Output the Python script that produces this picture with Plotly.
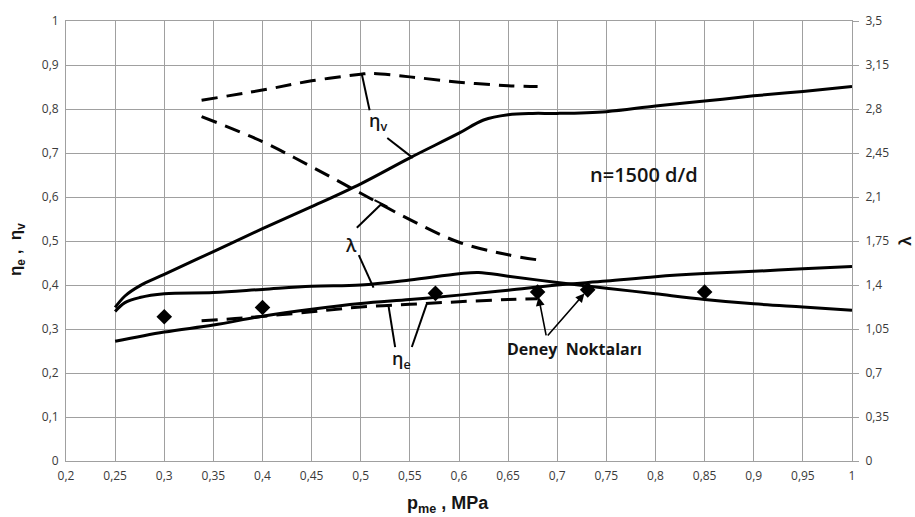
import plotly.graph_objects as go

# Effective pressure p_me [MPa] and measured / computed characteristics, n = 1500 d/d
p_etav_s = [0.25, 0.26, 0.275, 0.30, 0.35, 0.40, 0.45, 0.50, 0.55, 0.60, 0.625, 0.65, 0.675, 0.70, 0.75, 0.80, 0.85, 0.90, 0.95, 1.00]
etav_s = [0.349, 0.375, 0.398, 0.424, 0.476, 0.528, 0.578, 0.630, 0.689, 0.745, 0.775, 0.787, 0.790, 0.790, 0.794, 0.807, 0.818, 0.830, 0.840, 0.851]

p_lam_s = [0.25, 0.26, 0.275, 0.30, 0.35, 0.40, 0.45, 0.50, 0.55, 0.60, 0.62, 0.65, 0.70, 0.75, 0.80, 0.85, 0.90, 0.95, 1.00]
lam_s = [1.19, 1.26, 1.30, 1.33, 1.34, 1.365, 1.39, 1.40, 1.44, 1.49, 1.50, 1.47, 1.42, 1.375, 1.33, 1.285, 1.25, 1.225, 1.20]

p_etae_s = [0.25, 0.30, 0.35, 0.40, 0.45, 0.50, 0.55, 0.60, 0.65, 0.70, 0.75, 0.80, 0.85, 0.90, 0.95, 1.00]
etae_s = [0.272, 0.293, 0.309, 0.329, 0.345, 0.358, 0.367, 0.377, 0.388, 0.400, 0.409, 0.419, 0.426, 0.431, 0.437, 0.442]

p_etav_d = [0.338, 0.40, 0.45, 0.50, 0.51, 0.55, 0.60, 0.65, 0.68]
etav_d = [0.820, 0.843, 0.864, 0.879, 0.881, 0.873, 0.861, 0.853, 0.851]

p_lam_d = [0.338, 0.40, 0.45, 0.50, 0.55, 0.60, 0.65, 0.68]
lam_d = [2.74, 2.54, 2.34, 2.13, 1.92, 1.74, 1.64, 1.60]

p_etae_d = [0.338, 0.38, 0.45, 0.50, 0.55, 0.60, 0.65, 0.68]
etae_d = [0.319, 0.325, 0.339, 0.350, 0.356, 0.362, 0.367, 0.369]

# Test points (Deney Noktaları)
p_test = [0.30, 0.40, 0.576, 0.68, 0.731, 0.85]
eta_test = [0.328, 0.349, 0.381, 0.384, 0.389, 0.384]

x_ticks = [0.2, 0.25, 0.3, 0.35, 0.4, 0.45, 0.5, 0.55, 0.6, 0.65, 0.7, 0.75, 0.8, 0.85, 0.9, 0.95, 1.0]
x_tick_text = ["0,2", "0,25", "0,3", "0,35", "0,4", "0,45", "0,5", "0,55", "0,6", "0,65", "0,7", "0,75", "0,8", "0,85", "0,9", "0,95", "1"]
y_ticks = [0, 0.1, 0.2, 0.3, 0.4, 0.5, 0.6, 0.7, 0.8, 0.9, 1.0]
y_tick_text = ["0", "0,1", "0,2", "0,3", "0,4", "0,5", "0,6", "0,7", "0,8", "0,9", "1"]
y2_ticks = [0, 0.35, 0.7, 1.05, 1.4, 1.75, 2.1, 2.45, 2.8, 3.15, 3.5]
y2_tick_text = ["0", "0,35", "0,7", "1,05", "1,4", "1,75", "2,1", "2,45", "2,8", "3,15", "3,5"]

LINE_W = 3
DASH = "16px,9px"
GRID = "#a0a0a0"
TICK_FONT = dict(family="Open Sans", size=12, color="#3a3a3a")
LABEL = "#151515"

fig = go.Figure()

def curve(x, y, dashed=False, axis="y"):
    fig.add_trace(go.Scatter(
        x=x, y=y, mode="lines", yaxis=axis,
        line=dict(color="black", width=LINE_W, shape="spline", smoothing=1.0,
                  dash=DASH if dashed else "solid"),
        showlegend=False, hoverinfo="skip"))

curve(p_etav_s, etav_s)
curve(p_lam_s, lam_s, axis="y2")
curve(p_etae_s, etae_s)
curve(p_etav_d, etav_d, dashed=True)
curve(p_lam_d, lam_d, dashed=True, axis="y2")
curve(p_etae_d, etae_d, dashed=True)

fig.add_trace(go.Scatter(
    x=p_test, y=eta_test, mode="markers",
    marker=dict(symbol="diamond", size=12, color="black"),
    showlegend=False, hoverinfo="skip"))

# Leader lines tying each label to its curves (data coordinates of the left axis)
leaders = [
    (0.501, 0.880, 0.509, 0.797),   # eta_v -> dashed
    (0.527, 0.734, 0.553, 0.689),   # eta_v -> solid
    (0.496, 0.530, 0.521, 0.584),   # lambda -> dashed
    (0.514, 0.593, 0.527, 0.578),   # small cap on the lambda leader
    (0.498, 0.468, 0.513, 0.394),   # lambda -> solid
    (0.535, 0.259, 0.528, 0.356),   # eta_e -> solid
    (0.552, 0.259, 0.567, 0.356),   # eta_e -> dashed
]
shapes = [dict(type="line", xref="x", yref="y", x0=a, y0=b, x1=c, y1=d,
               line=dict(color="black", width=2)) for a, b, c, d in leaders]

LBL_FONT = dict(family="Open Sans", size=18, color=LABEL, weight=600)
annotations = [
    dict(x=0.518, y=0.772, text="η<sub>v</sub>", showarrow=False, font=LBL_FONT),
    dict(x=0.490, y=0.491, text="λ", showarrow=False, font=LBL_FONT),
    dict(x=0.541, y=0.231, text="η<sub>e</sub>", showarrow=False, font=LBL_FONT),
    dict(x=0.718, y=0.255, text="Deney  Noktaları", showarrow=False,
         font=dict(family="Open Sans", size=16, color=LABEL, weight=700)),
    dict(x=0.788, y=0.652, text="n=1500 d/d", showarrow=False,
         font=dict(family="Open Sans", size=20, color=LABEL, weight=600)),
]
# Arrows from the "Deney Noktaları" label to two of the test points
for i in (3, 4):
    annotations.append(dict(
        x=p_test[i], y=eta_test[i], xref="x", yref="y",
        ax=0.689, ay=0.282, axref="x", ayref="y",
        showarrow=True, arrowhead=2, arrowsize=1.1, arrowwidth=1.6,
        arrowcolor="black", standoff=5, text=""))

# Axis titles
annotations += [
    dict(x=-0.062, y=0.48, xref="paper", yref="paper", xanchor="center", yanchor="middle",
         text="<b>η<sub>e</sub> ,  η<sub>v</sub></b>", textangle=-90, showarrow=False,
         font=dict(family="Liberation Sans", size=17, color=LABEL)),
    dict(x=1.067, y=0.50, xref="paper", yref="paper", xanchor="center", yanchor="middle",
         text="<b>λ</b>", textangle=-90, showarrow=False,
         font=dict(family="Liberation Sans", size=17, color=LABEL)),
    dict(x=0.486, y=-0.098, xref="paper", yref="paper", xanchor="center", yanchor="middle",
         text="<b>p<sub>me</sub> , MPa</b>", showarrow=False,
         font=dict(family="Liberation Sans", size=18, color=LABEL)),
]

fig.update_layout(
    width=915, height=517,
    margin=dict(l=66, r=63, t=15, b=56),
    paper_bgcolor="white", plot_bgcolor="white",
    shapes=shapes, annotations=annotations,
    xaxis=dict(range=[0.2, 1.0], tickvals=x_ticks, ticktext=x_tick_text,
               showgrid=True, gridcolor=GRID, gridwidth=1,
               showline=True, linecolor=GRID, linewidth=1, mirror=True,
               zeroline=False, ticks="", tickfont=TICK_FONT, ticklabelstandoff=4),
    yaxis=dict(range=[0, 1.0], tickvals=y_ticks, ticktext=y_tick_text,
               showgrid=True, gridcolor=GRID, gridwidth=1,
               showline=True, linecolor=GRID, linewidth=1, mirror=True,
               zeroline=False, ticks="", tickfont=TICK_FONT, ticklabelstandoff=4),
    yaxis2=dict(range=[0, 3.5], tickvals=y2_ticks, ticktext=y2_tick_text,
                overlaying="y", side="right", showgrid=False, zeroline=False,
                ticks="outside", ticklen=6, tickcolor=GRID,
                showline=False, tickfont=TICK_FONT, ticklabelstandoff=4),
)

fig.write_html("out.html")
